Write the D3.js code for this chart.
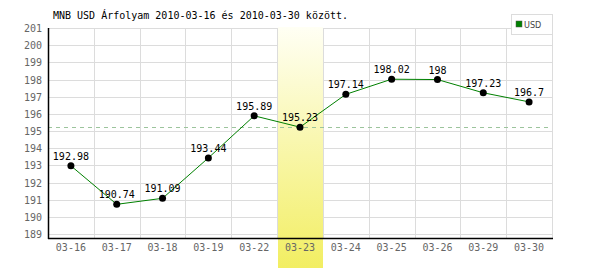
<!DOCTYPE html>
<html>
<head>
<meta charset="utf-8">
<script src="https://cdn.jsdelivr.net/npm/d3@7"></script>
<style>
  body { margin: 0; background: #fff; }
  svg text { font-family: "DejaVu Sans Mono", monospace; }
</style>
</head>
<body>
<div id="chart"></div>
<script>
(function() {
    'use strict';

    // data
    var days = ['03-16', '03-17', '03-18', '03-19', '03-22', '03-23', '03-24', '03-25', '03-26', '03-29', '03-30'];
    var usd = [192.98, 190.74, 191.09, 193.44, 195.89, 195.23, 197.14, 198.02, 198, 197.23, 196.7];
    var yTicks = [189, 190, 191, 192, 193, 194, 195, 196, 197, 198, 199, 200, 201];
    var labels = ['192.98', '190.74', '191.09', '193.44', '195.89', '195.23', '197.14', '198.02', '198', '197.23', '196.7'];
    var highlightDay = '03-23';
    var refValue = 195.23;
    var title = 'MNB USD Árfolyam 2010-03-16 és 2010-03-30 között.';

    var W = 600, H = 270,
        left = 48, right = 552, top = 28, bottom = 238;

    var svg = d3.select('#chart').append('svg')
        .attr('width', W)
        .attr('height', H);

    var x = d3.scaleBand().domain(days).range([left, right]).padding(0);
    var y = d3.scaleLinear().domain([188.78, 201]).range([bottom, top]);

    // gradient for highlighted day
    var grad = svg.append('defs').append('linearGradient')
        .attr('id', 'hl')
        .attr('x1', 0).attr('y1', 0).attr('x2', 0).attr('y2', 1);
    grad.append('stop').attr('offset', '0%').attr('stop-color', '#fffff4');
    grad.append('stop').attr('offset', '100%').attr('stop-color', '#f2ee62');

    // grid
    svg.append('g')
        .selectAll('line')
        .data(yTicks)
        .enter().append('line')
        .attr('x1', left).attr('x2', right)
        .attr('y1', function(d) { return Math.round(y(d)) + 0.5; })
        .attr('y2', function(d) { return Math.round(y(d)) + 0.5; })
        .attr('stroke', '#dcdcdc');

    svg.append('g')
        .selectAll('line')
        .data(days)
        .enter().append('line')
        .attr('x1', function(d) { return Math.round(x(d) + x.bandwidth()) + 0.5; })
        .attr('x2', function(d) { return Math.round(x(d) + x.bandwidth()) + 0.5; })
        .attr('y1', top).attr('y2', bottom)
        .attr('stroke', '#dcdcdc');

    // highlight band
    svg.append('rect')
        .attr('x', Math.round(x(highlightDay)) + 1)
        .attr('y', top - 1)
        .attr('width', Math.round(x.bandwidth()) - 1)
        .attr('height', 268 - top + 1)
        .attr('fill', 'url(#hl)');

    // reference line
    svg.append('line')
        .attr('x1', left).attr('x2', right)
        .attr('y1', Math.round(y(refValue)) + 0.5)
        .attr('y2', Math.round(y(refValue)) + 0.5)
        .attr('stroke', '#9cc49c')
        .attr('stroke-dasharray', '4,4');

    // axes lines
    svg.append('line')
        .attr('x1', left + 0.5).attr('x2', left + 0.5)
        .attr('y1', top).attr('y2', bottom + 1)
        .attr('stroke', '#000').attr('stroke-width', 1.5);
    svg.append('line')
        .attr('x1', left).attr('x2', right + 1)
        .attr('y1', bottom + 0.5).attr('y2', bottom + 0.5)
        .attr('stroke', '#000').attr('stroke-width', 1.5);

    // y tick labels
    svg.append('g')
        .selectAll('text')
        .data(yTicks)
        .enter().append('text')
        .attr('x', 42)
        .attr('y', function(d) { return y(d) + 4; })
        .attr('text-anchor', 'end')
        .attr('font-size', 10)
        .attr('fill', '#666')
        .text(function(d) { return d; });

    // x tick labels
    svg.append('g')
        .selectAll('text')
        .data(days)
        .enter().append('text')
        .attr('x', function(d) { return x(d) + x.bandwidth() / 2; })
        .attr('y', 251)
        .attr('text-anchor', 'middle')
        .attr('font-size', 10)
        .attr('fill', '#666')
        .text(function(d) { return d; });

    // line + points
    var cx = function(d, i) { return x(days[i]) + x.bandwidth() / 2; };
    var line = d3.line()
        .x(function(d, i) { return cx(d, i); })
        .y(function(d) { return y(d); });

    svg.append('path')
        .datum(usd)
        .attr('d', line)
        .attr('fill', 'none')
        .attr('stroke', '#008000')
        .attr('stroke-width', 1);

    svg.append('g')
        .selectAll('circle')
        .data(usd)
        .enter().append('circle')
        .attr('cx', cx)
        .attr('cy', function(d) { return y(d); })
        .attr('r', 3.5)
        .attr('fill', '#000');

    svg.append('g')
        .selectAll('text')
        .data(usd)
        .enter().append('text')
        .attr('x', cx)
        .attr('y', function(d) { return y(d) - 6; })
        .attr('text-anchor', 'middle')
        .attr('font-size', 10)
        .attr('fill', '#000')
        .text(function(d, i) { return labels[i]; });

    // title
    svg.append('text')
        .attr('x', 53)
        .attr('y', 19)
        .attr('font-size', 10)
        .attr('fill', '#000')
        .text(title);

    // legend
    var lg = svg.append('g');
    lg.append('rect')
        .attr('x', 511.5).attr('y', 14.5)
        .attr('width', 41).attr('height', 20)
        .attr('fill', '#fff')
        .attr('stroke', '#dcdcdc');
    lg.append('rect')
        .attr('x', 516).attr('y', 21)
        .attr('width', 6).attr('height', 6)
        .attr('fill', '#008000')
        .attr('stroke', '#555').attr('stroke-width', 0.5);
    lg.append('text')
        .attr('x', 524)
        .attr('y', 28)
        .style('font-family', '"Liberation Sans Narrow", "DejaVu Sans Condensed", sans-serif')
        .attr('font-size', 9)
        .attr('fill', '#444')
        .text('USD');
})();
</script>
</body>
</html>
